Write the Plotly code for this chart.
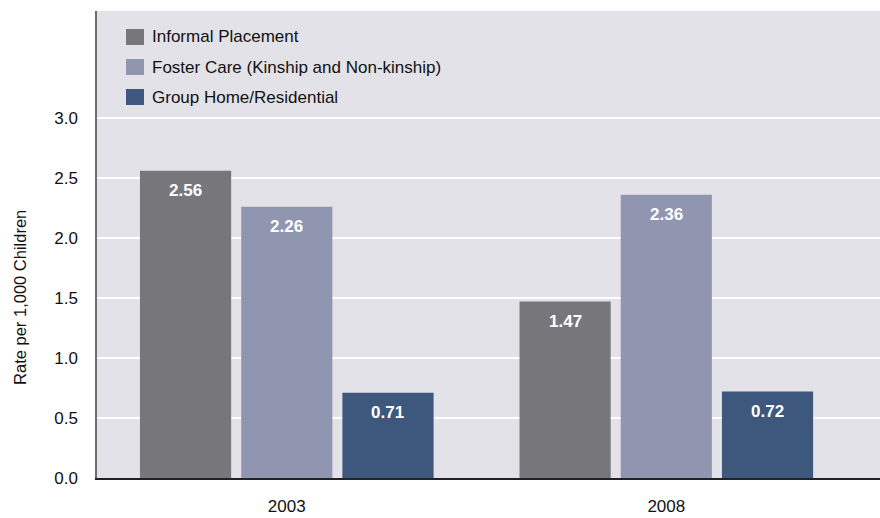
import plotly.graph_objects as go

# ---- data ----
years = ["2003", "2008"]
series_names = ["Informal Placement", "Foster Care (Kinship and Non-kinship)", "Group Home/Residential"]
informal = [2.56, 1.47]
foster = [2.26, 2.36]
group_home = [0.71, 0.72]
y_tickvals = [0.0, 0.5, 1.0, 1.5, 2.0, 2.5, 3.0]
y_ticktext = ["0.0", "0.5", "1.0", "1.5", "2.0", "2.5", "3.0"]
y_title = "Rate per 1,000 Children"

# ---- style ----
colors = ["#77777b", "#9196b0", "#3e587d"]
bg = "#e3e2e8"
FONT = "Liberation Sans, Arial, sans-serif"
W, H = 880, 518
L, T, R, B = 97, 11, 0, 40
BARGAP = 0.2
GROUPGAP = 0.099


def px_x(px):
    return (px - L) / (W - L - R)


def px_y(py):
    return 1 - (py - T) / (H - T - B)


series = [informal, foster, group_home]
fig = go.Figure()
for name, vals, col in zip(series_names, series, colors):
    fig.add_trace(go.Bar(
        x=years, y=vals, name=name, marker=dict(color=col, line=dict(width=0)),
        showlegend=False, hoverinfo="skip",
    ))

annotations = []
slot = (1 - BARGAP) / len(series)
for k, vals in enumerate(series):
    for i, v in enumerate(vals):
        annotations.append(dict(
            x=i + (k - (len(series) - 1) / 2) * slot, y=v, xref="x", yref="y",
            text=f"<b>{v:.2f}</b>", showarrow=False, yshift=-20,
            font=dict(family=FONT, size=17, color="white"),
        ))

# manual legend
shapes = []
row_centers = [37, 67, 97]
for name, col, cy in zip(series_names, colors, row_centers):
    shapes.append(dict(
        type="rect", xref="paper", yref="paper",
        x0=px_x(126), x1=px_x(144), y0=px_y(cy + 8), y1=px_y(cy - 8),
        fillcolor=col, line=dict(width=0), layer="above",
    ))
    annotations.append(dict(
        x=px_x(150), y=px_y(cy), xref="paper", yref="paper", xanchor="left", yanchor="middle",
        text=name, showarrow=False, font=dict(family=FONT, size=17, color="#111111"),
    ))

# y-axis title
annotations.append(dict(
    x=px_x(20), y=1.5, xref="paper", yref="y", text=y_title, textangle=-90,
    showarrow=False, xanchor="center", yanchor="middle",
    font=dict(family=FONT, size=16.5, color="#111111"),
))

fig.update_layout(
    width=W, height=H,
    margin=dict(l=L, r=R, t=T, b=B, autoexpand=False),
    paper_bgcolor="white", plot_bgcolor=bg,
    barmode="group", bargap=BARGAP, bargroupgap=GROUPGAP,
    font=dict(family=FONT, size=17, color="#111111"),
    annotations=annotations, shapes=shapes,
    xaxis=dict(
        type="category", range=[-0.5, 1.563], showgrid=False, zeroline=False,
        showline=True, linecolor="#222222", linewidth=1.5, ticks="",
        ticklabelstandoff=12, tickfont=dict(family=FONT, size=17, color="#111111"),
        automargin=False, fixedrange=True,
    ),
    yaxis=dict(
        range=[0, 3.89], tickvals=y_tickvals, ticktext=y_ticktext,
        showgrid=True, gridcolor="white", gridwidth=2, zeroline=False,
        showline=True, linecolor="#6b6b6b", linewidth=1.5, ticks="",
        ticklabelstandoff=14, tickfont=dict(family=FONT, size=17, color="#111111"),
        automargin=False, fixedrange=True,
    ),
)

fig.write_html("out.html", config={"displayModeBar": False})
